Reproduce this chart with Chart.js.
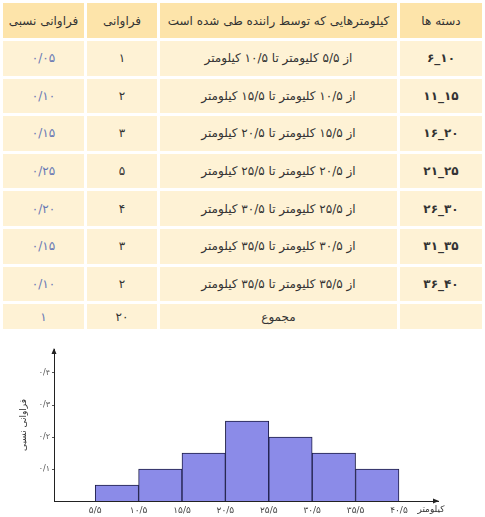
<!DOCTYPE html>
<html lang="fa">
<head>
<meta charset="utf-8">
<script src="https://cdn.jsdelivr.net/npm/chart.js@4.4.1/dist/chart.umd.min.js"></script>
<style>
  body { margin: 0; width: 485px; height: 517px; overflow: hidden; background: #fff; font-family: "DejaVu Sans", sans-serif; }
  #freqTable { position: absolute; left: 0; top: 0; width: 485px; border-collapse: separate; border-spacing: 3px; table-layout: fixed; direction: rtl; }
  #freqTable th, #freqTable td { text-align: center; padding: 0; font-size: 12px; color: #333; }
  #freqTable th { background: #fde4aa; height: 35px; font-weight: normal; }
  #freqTable td { background: #fef2d5; height: 34.6px; }
  #freqTable tr.total td { height: 25px; }
  #freqTable td.cls { font-weight: bold; }
  #freqTable td.rel { color: #6878b4; }
  #chartBox { position: absolute; left: 0; top: 335px; width: 485px; height: 182px; }
</style>
</head>
<body>
<table id="freqTable">
  <colgroup>
    <col style="width:82px">
    <col style="width:237px">
    <col style="width:70px">
    <col style="width:81px">
  </colgroup>
  <thead>
    <tr>
      <th>دسته ها</th>
      <th>کیلومترهایی که توسط راننده طی شده است</th>
      <th>فراوانی</th>
      <th>فراوانی نسبی</th>
    </tr>
  </thead>
  <tbody id="tableBody"></tbody>
</table>
<div id="chartBox"><canvas id="histChart"></canvas></div>

<script>
// داده های جدول و نمودار
const classes = ["۶_۱۰", "۱۱_۱۵", "۱۶_۲۰", "۲۱_۲۵", "۲۶_۳۰", "۳۱_۳۵", "۳۶_۴۰"];
const ranges = [
    "از ۵/۵ کلیومتر تا ۱۰/۵ کیلومتر",
    "از ۱۰/۵ کلیومتر تا ۱۵/۵ کیلومتر",
    "از ۱۵/۵ کلیومتر تا ۲۰/۵ کیلومتر",
    "از ۲۰/۵ کلیومتر تا ۲۵/۵ کیلومتر",
    "از ۲۵/۵ کلیومتر تا ۳۰/۵ کیلومتر",
    "از ۳۰/۵ کلیومتر تا ۳۵/۵ کیلومتر",
    "از ۳۵/۵ کلیومتر تا ۳۵/۵ کیلومتر",
];
const frequency = [1, 2, 3, 5, 4, 3, 2];
const relFreq = [0.05, 0.10, 0.15, 0.25, 0.20, 0.15, 0.10];
const totalLabel = "مجموع";
const totalFreq = 20;
const totalRel = 1;

const binCenters = [8, 13, 18, 23, 28, 33, 38];
const xTickValues = [5.5, 10.5, 15.5, 20.5, 25.5, 30.5, 35.5, 40.5];
const xTickLabels = ["۵/۵", "۱۰/۵", "۱۵/۵", "۲۰/۵", "۲۵/۵", "۳۰/۵", "۳۵/۵", "۴۰/۵"];
const yTickValues = [0.1, 0.2, 0.3, 0.4];
const yTickLabels = ["۰/۱", "۰/۲", "۰/۳", "۰/۴"];
const xAxisTitle = "کیلومتر";
const yAxisTitle = "فراوانی نسبی";

// اعداد فارسی
function toFa(s) {
    return String(s).replace(/\./g, "/").replace(/\d/g, d => "۰۱۲۳۴۵۶۷۸۹"[d]);
}

const body = document.getElementById("tableBody");
classes.forEach((c, i) => {
    const tr = document.createElement("tr");
    tr.innerHTML =
        `<td class="cls"><span dir="ltr">${c}</span></td>` +
        `<td>${ranges[i]}</td>` +
        `<td>${toFa(frequency[i])}</td>` +
        `<td class="rel">${toFa(relFreq[i].toFixed(2))}</td>`;
    body.appendChild(tr);
});
const totalRow = document.createElement("tr");
totalRow.className = "total";
totalRow.innerHTML = `<td></td><td>${totalLabel}</td><td>${toFa(totalFreq)}</td><td class="rel">${toFa(totalRel)}</td>`;
body.appendChild(totalRow);

Chart.defaults.font.family = '"DejaVu Sans", sans-serif';

// فلش انتهای محورها و عنوان محور افقی
const axisArrows = {
    id: "axisArrows",
    afterDraw(chart) {
        const { ctx, chartArea: a } = chart;
        ctx.save();
        ctx.fillStyle = "#222";
        ctx.beginPath();
        ctx.moveTo(a.right + 1, a.bottom);
        ctx.lineTo(a.right - 5, a.bottom - 2.5);
        ctx.lineTo(a.right - 5, a.bottom + 2.5);
        ctx.closePath();
        ctx.fill();
        ctx.beginPath();
        ctx.moveTo(a.left, a.top - 1);
        ctx.lineTo(a.left - 2.5, a.top + 5);
        ctx.lineTo(a.left + 2.5, a.top + 5);
        ctx.closePath();
        ctx.fill();
        ctx.font = '9px "DejaVu Sans"';
        ctx.textAlign = "center";
        ctx.textBaseline = "middle";
        ctx.fillStyle = "#333";
        ctx.fillText(xAxisTitle, a.right - 7, a.bottom + 9);
        ctx.restore();
    },
};

new Chart(document.getElementById("histChart"), {
    type: "bar",
    data: {
        datasets: [{
            data: binCenters.map((x, i) => ({ x: x, y: relFreq[i] })),
            backgroundColor: "#8b8be8",
            borderColor: "#1e1e48",
            borderWidth: 1,
            barPercentage: 1,
            categoryPercentage: 1,
        }],
    },
    options: {
        responsive: true,
        maintainAspectRatio: false,
        animation: false,
        layout: { padding: { left: 18, right: 47, top: 14, bottom: 0 } },
        plugins: {
            legend: { display: false },
            tooltip: { enabled: false },
        },
        scales: {
            x: {
                type: "linear",
                offset: false,
                min: 0.75,
                max: 45,
                afterBuildTicks: s => { s.ticks = xTickValues.map(v => ({ value: v })); },
                afterFit: s => { s.height = 16; },
                ticks: {
                    callback: (v, i) => xTickLabels[i],
                    font: { size: 9 },
                    color: "#444",
                    padding: 4,
                    maxRotation: 0,
                    autoSkip: false,
                },
                grid: { display: false, drawTicks: false, offset: false },
                border: { color: "#222", width: 1 },
            },
            y: {
                min: 0,
                max: 0.475,
                afterBuildTicks: s => { s.ticks = yTickValues.map(v => ({ value: v })); },
                afterFit: s => { s.width = 36; },
                ticks: {
                    callback: (v, i) => yTickLabels[i],
                    font: { size: 8 },
                    color: "#555",
                    padding: 2,
                },
                grid: { display: true, drawOnChartArea: false, drawTicks: true, tickLength: 2, color: "#555" },
                border: { color: "#222", width: 1 },
                title: {
                    display: true,
                    text: yAxisTitle,
                    font: { size: 9 },
                    color: "#333",
                    padding: 0,
                },
            },
        },
    },
    plugins: [axisArrows],
});
</script>
</body>
</html>
